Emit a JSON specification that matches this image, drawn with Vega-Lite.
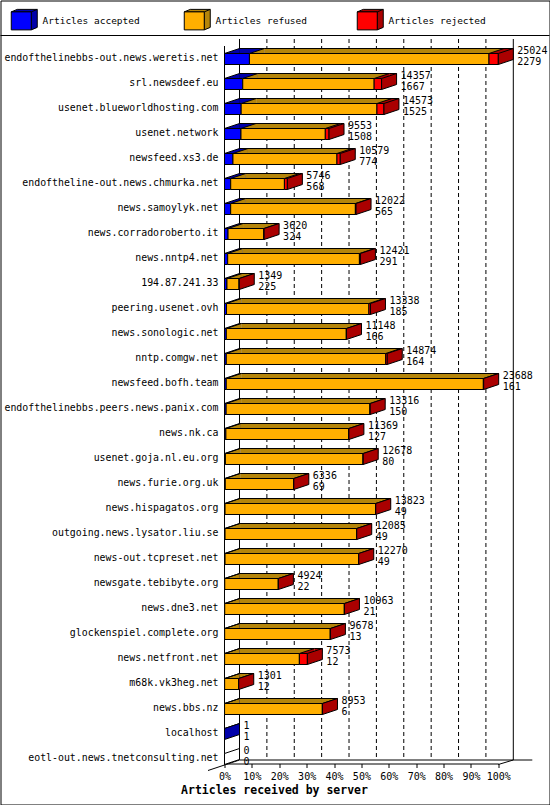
{
  "$schema": "https://vega.github.io/schema/vega-lite/v6.json",
  "width": 549,
  "height": 804,
  "autosize": {"type": "none"},
  "padding": {"left": 0.5, "top": 0.5, "right": 0.5, "bottom": 0.5},
  "background": "white",
  "config": {
    "view": {"stroke": "black", "strokeWidth": 1, "fill": "white"},
    "axis": {"grid": false},
    "font": "DejaVu Sans Mono"
  },
  "datasets": {
    "servers": [
      {"server": "endofthelinebbs-out.news.weretis.net", "offered": 25024, "accepted": 2279, "refused": 21895, "rejected": 850, "last": "rejected"},
      {"server": "srl.newsdeef.eu", "offered": 14357, "accepted": 1667, "refused": 12010, "rejected": 680, "last": "rejected"},
      {"server": "usenet.blueworldhosting.com", "offered": 14573, "accepted": 1525, "refused": 12408, "rejected": 640, "last": "rejected"},
      {"server": "usenet.network", "offered": 9553, "accepted": 1508, "refused": 7705, "rejected": 340, "last": "rejected"},
      {"server": "newsfeed.xs3.de", "offered": 10579, "accepted": 774, "refused": 9505, "rejected": 300, "last": "rejected"},
      {"server": "endoftheline-out.news.chmurka.net", "offered": 5746, "accepted": 568, "refused": 4908, "rejected": 270, "last": "rejected"},
      {"server": "news.samoylyk.net", "offered": 12022, "accepted": 565, "refused": 11397, "rejected": 60, "last": "rejected"},
      {"server": "news.corradoroberto.it", "offered": 3620, "accepted": 324, "refused": 3276, "rejected": 20, "last": "rejected"},
      {"server": "news.nntp4.net", "offered": 12421, "accepted": 291, "refused": 12040, "rejected": 90, "last": "rejected"},
      {"server": "194.87.241.33", "offered": 1349, "accepted": 225, "refused": 1114, "rejected": 10, "last": "rejected"},
      {"server": "peering.usenet.ovh", "offered": 13338, "accepted": 185, "refused": 13013, "rejected": 140, "last": "rejected"},
      {"server": "news.sonologic.net", "offered": 11148, "accepted": 166, "refused": 10967, "rejected": 15, "last": "rejected"},
      {"server": "nntp.comgw.net", "offered": 14874, "accepted": 164, "refused": 14570, "rejected": 140, "last": "rejected"},
      {"server": "newsfeed.bofh.team", "offered": 23688, "accepted": 161, "refused": 23497, "rejected": 30, "last": "rejected"},
      {"server": "endofthelinebbs.peers.news.panix.com", "offered": 13316, "accepted": 150, "refused": 13146, "rejected": 20, "last": "rejected"},
      {"server": "news.nk.ca", "offered": 11369, "accepted": 127, "refused": 11232, "rejected": 10, "last": "rejected"},
      {"server": "usenet.goja.nl.eu.org", "offered": 12678, "accepted": 80, "refused": 12588, "rejected": 10, "last": "rejected"},
      {"server": "news.furie.org.uk", "offered": 6336, "accepted": 69, "refused": 6262, "rejected": 5, "last": "rejected"},
      {"server": "news.hispagatos.org", "offered": 13823, "accepted": 49, "refused": 13764, "rejected": 10, "last": "rejected"},
      {"server": "outgoing.news.lysator.liu.se", "offered": 12085, "accepted": 49, "refused": 12026, "rejected": 10, "last": "rejected"},
      {"server": "news-out.tcpreset.net", "offered": 12270, "accepted": 49, "refused": 12211, "rejected": 10, "last": "rejected"},
      {"server": "newsgate.tebibyte.org", "offered": 4924, "accepted": 22, "refused": 4897, "rejected": 5, "last": "rejected"},
      {"server": "news.dne3.net", "offered": 10963, "accepted": 21, "refused": 10932, "rejected": 10, "last": "rejected"},
      {"server": "glockenspiel.complete.org", "offered": 9678, "accepted": 13, "refused": 9655, "rejected": 10, "last": "rejected"},
      {"server": "news.netfront.net", "offered": 7573, "accepted": 12, "refused": 6831, "rejected": 730, "last": "rejected"},
      {"server": "m68k.vk3heg.net", "offered": 1301, "accepted": 12, "refused": 1284, "rejected": 5, "last": "rejected"},
      {"server": "news.bbs.nz", "offered": 8953, "accepted": 6, "refused": 8937, "rejected": 10, "last": "rejected"},
      {"server": "localhost", "offered": 1, "accepted": 1, "refused": 0, "rejected": 0, "last": "accepted"},
      {"server": "eotl-out.news.tnetconsulting.net", "offered": 0, "accepted": 0, "refused": 0, "rejected": 0, "last": "none"}
    ],
    "frame": [
      {"lo": 0, "hi": 25024, "top": "endofthelinebbs-out.news.weretis.net", "bottom": "eotl-out.news.tnetconsulting.net"}
    ],
    "ticks": [
      {"v": 0, "top": "endofthelinebbs-out.news.weretis.net", "bottom": "eotl-out.news.tnetconsulting.net"},
      {"v": 2502.4, "top": "endofthelinebbs-out.news.weretis.net", "bottom": "eotl-out.news.tnetconsulting.net"},
      {"v": 5004.8, "top": "endofthelinebbs-out.news.weretis.net", "bottom": "eotl-out.news.tnetconsulting.net"},
      {"v": 7507.2, "top": "endofthelinebbs-out.news.weretis.net", "bottom": "eotl-out.news.tnetconsulting.net"},
      {"v": 10009.6, "top": "endofthelinebbs-out.news.weretis.net", "bottom": "eotl-out.news.tnetconsulting.net"},
      {"v": 12512, "top": "endofthelinebbs-out.news.weretis.net", "bottom": "eotl-out.news.tnetconsulting.net"},
      {"v": 15014.4, "top": "endofthelinebbs-out.news.weretis.net", "bottom": "eotl-out.news.tnetconsulting.net"},
      {"v": 17516.8, "top": "endofthelinebbs-out.news.weretis.net", "bottom": "eotl-out.news.tnetconsulting.net"},
      {"v": 20019.2, "top": "endofthelinebbs-out.news.weretis.net", "bottom": "eotl-out.news.tnetconsulting.net"},
      {"v": 22521.6, "top": "endofthelinebbs-out.news.weretis.net", "bottom": "eotl-out.news.tnetconsulting.net"},
      {"v": 25024, "top": "endofthelinebbs-out.news.weretis.net", "bottom": "eotl-out.news.tnetconsulting.net"}
    ]
  },
  "layer": [
    {
      "data": {"name": "frame"},
      "mark": {"type": "rule", "color": "black", "strokeWidth": 1, "yOffset": -22.5},
      "encoding": {
        "y": {"field": "top", "type": "nominal", "sort": null,
              "scale": {"type": "band", "domain": ["endofthelinebbs-out.news.weretis.net","srl.newsdeef.eu","usenet.blueworldhosting.com","usenet.network","newsfeed.xs3.de","endoftheline-out.news.chmurka.net","news.samoylyk.net","news.corradoroberto.it","news.nntp4.net","194.87.241.33","peering.usenet.ovh","news.sonologic.net","nntp.comgw.net","newsfeed.bofh.team","endofthelinebbs.peers.news.panix.com","news.nk.ca","usenet.goja.nl.eu.org","news.furie.org.uk","news.hispagatos.org","outgoing.news.lysator.liu.se","news-out.tcpreset.net","newsgate.tebibyte.org","news.dne3.net","glockenspiel.complete.org","news.netfront.net","m68k.vk3heg.net","news.bbs.nz","localhost","eotl-out.news.tnetconsulting.net"], "range": [45, 770], "paddingInner": 0, "paddingOuter": 0},
              "axis": {
                "orient": "left", "offset": -223.5, "domain": false, "ticks": false, "tickSize": 0,
                "labelPadding": 6, "labelFont": "DejaVu Sans Mono", "labelFontSize": 9.9, "labelColor": "black",
                "labelLimit": 0, "title": null
              }}
      }
    },
    {
      "data": {"name": "ticks"},
      "transform": [{"filter": "datum.v > 0 && datum.v < 25024"}],
      "mark": {"type": "rule", "color": "black", "strokeWidth": 1, "strokeDash": [4, 3], "xOffset": 15, "yOffset": -19, "y2Offset": 2},
      "encoding": {
        "x": {"field": "v", "type": "quantitative",
              "scale": {"type": "linear", "domain": [0, 25024], "range": [224, 497.8], "nice": false, "zero": false},
              "axis": {
                "orient": "bottom", "offset": -41, "grid": false,
                "values": [0, 2502.4, 5004.8, 7507.2, 10009.6, 12512, 15014.4, 17516.8, 20019.2, 22521.6, 25024],
                "labelExpr": "round(datum.value / 25024 * 100) + '%'",
                "tickSize": 4, "tickColor": "black", "domainColor": "black",
                "labelColor": "black", "labelFont": "DejaVu Sans Mono", "labelFontSize": 10, "labelPadding": 4,
                "labelFlush": false, "labelOverlap": false,
                "title": "Articles received by server", "titleFont": "DejaVu Sans Mono", "titleFontSize": 11.5,
                "titleFontWeight": "bold", "titleColor": "black", "titleX": 273.5, "titleY": 27,
                "titleAlign": "center", "titleBaseline": "middle"
              }},
        "y": {"field": "top", "type": "nominal"},
        "y2": {"field": "bottom"}
      }
    },
    {
      "data": {"name": "ticks"},
      "transform": [{"filter": "datum.v == 0 || datum.v == 25024"}],
      "mark": {"type": "rule", "color": "black", "strokeWidth": 1, "xOffset": 15, "yOffset": -19, "y2Offset": 2},
      "encoding": {
        "x": {"field": "v", "type": "quantitative"},
        "y": {"field": "top", "type": "nominal"},
        "y2": {"field": "bottom"}
      }
    },
    {
      "data": {"name": "frame"},
      "mark": {"type": "rule", "color": "black", "strokeWidth": 1, "xOffset": 15, "x2Offset": 34, "yOffset": 2},
      "encoding": {
        "x": {"field": "lo", "type": "quantitative"},
        "x2": {"field": "hi"},
        "y": {"field": "bottom", "type": "nominal"}
      }
    },
    {
      "data": {"name": "frame"},
      "mark": {"type": "rule", "color": "black", "strokeWidth": 1, "xOffset": -16.5, "x2Offset": 15, "yOffset": 12.5, "y2Offset": 2},
      "encoding": {
        "x": {"field": "lo", "type": "quantitative"},
        "x2": {"field": "lo"},
        "y": {"field": "bottom", "type": "nominal"},
        "y2": {"field": "bottom"}
      }
    },
    {
      "data": {"name": "frame"},
      "mark": {"type": "rule", "color": "black", "strokeWidth": 1, "x2Offset": 15, "yOffset": 6.5, "y2Offset": 2},
      "encoding": {
        "x": {"field": "hi", "type": "quantitative"},
        "x2": {"field": "hi"},
        "y": {"field": "bottom", "type": "nominal"},
        "y2": {"field": "bottom"}
      }
    },
    {
      "data": {"name": "frame"},
      "mark": {"type": "rule", "color": "black", "strokeWidth": 1, "yOffset": -12, "y2Offset": 7},
      "encoding": {
        "x": {"field": "lo", "type": "quantitative"},
        "y": {"field": "top", "type": "nominal"},
        "y2": {"field": "bottom"}
      }
    },
    {
      "data": {"name": "servers"},
      "transform": [
        {"fold": ["accepted", "refused", "rejected"], "as": ["face", "n"]},
        {"filter": "datum.n > 0"},
        {"stack": "n", "groupby": ["server"], "sort": [{"field": "face", "order": "ascending"}], "as": ["n0", "n1"]}
      ],
      "mark": {"type": "bar", "height": 5, "yOffset": -7, "xOffset": 15, "x2Offset": 15, "strokeWidth": 0},
      "encoding": {
        "x": {"field": "n0", "type": "quantitative"},
        "x2": {"field": "n1"},
        "y": {"field": "server", "type": "nominal"},
        "fill": {
          "field": "face", "type": "nominal",
          "scale": {"domain": ["accepted", "refused", "rejected", "none"], "range": ["#0000aa", "#b5850a", "#aa0000", "#ffffff"]},
          "legend": {
            "values": ["accepted", "refused", "rejected"],
            "orient": "none", "legendX": 16, "legendY": 15.5, "direction": "horizontal", "columns": 3,
            "gridAlign": "all", "columnPadding": 41, "padding": 0, "title": null,
            "symbolType": "M-10,-9L-4,-11.5H16V6.5L10,9V-9ZM10,-9L16,-11.5", "symbolSize": 4,
            "symbolStrokeColor": "black", "symbolStrokeWidth": 1,
            "labelFont": "DejaVu Sans Mono", "labelFontSize": 9.5, "labelOffset": 16.5, "labelOpacity": 0,
            "labelExpr": "'Articles ' + datum.label"
          }
        }
      }
    },
    {
      "data": {"name": "servers"},
      "transform": [
        {"fold": ["accepted", "refused", "rejected"], "as": ["face", "n"]},
        {"filter": "datum.n > 0"},
        {"stack": "n", "groupby": ["server"], "sort": [{"field": "face", "order": "ascending"}], "as": ["n0", "n1"]}
      ],
      "mark": {"type": "point", "shape": "M0,-4.5L15,-9.5L15,-4.5Z", "size": 4, "filled": true, "opacity": 1, "strokeWidth": 0},
      "encoding": {
        "x": {"field": "n0", "type": "quantitative"},
        "y": {"field": "server", "type": "nominal"},
        "fill": {"field": "face", "type": "nominal"}
      }
    },
    {
      "data": {"name": "servers"},
      "transform": [
        {"fold": ["accepted", "refused", "rejected"], "as": ["face", "n"]},
        {"filter": "datum.n > 0"},
        {"stack": "n", "groupby": ["server"], "sort": [{"field": "face", "order": "ascending"}], "as": ["n0", "n1"]}
      ],
      "mark": {"type": "rule", "color": "black", "strokeWidth": 1, "xOffset": 15, "x2Offset": 15, "yOffset": -9.5},
      "encoding": {
        "x": {"field": "n0", "type": "quantitative"},
        "x2": {"field": "n1"},
        "y": {"field": "server", "type": "nominal"}
      }
    },
    {
      "data": {"name": "servers"},
      "transform": [
        {"fold": ["accepted", "refused", "rejected"], "as": ["face", "n"]},
        {"filter": "datum.n > 0"},
        {"stack": "n", "groupby": ["server"], "sort": [{"field": "face", "order": "ascending"}], "as": ["n0", "n1"]}
      ],
      "mark": {"type": "point", "shape": "M0,-4.5L15,-9.5", "size": 4, "filled": false, "color": "black", "stroke": "black", "strokeWidth": 1, "opacity": 1},
      "encoding": {
        "x": {"field": "n0", "type": "quantitative"},
        "y": {"field": "server", "type": "nominal"}
      }
    },
    {
      "data": {"name": "servers"},
      "transform": [
        {"fold": ["accepted", "refused", "rejected"], "as": ["status", "n"]},
        {"filter": "datum.n > 0"},
        {"stack": "n", "groupby": ["server"], "sort": [{"field": "status", "order": "ascending"}], "as": ["n0", "n1"]}
      ],
      "mark": {"type": "bar", "height": 11, "yOffset": 1, "stroke": "black", "strokeWidth": 1},
      "encoding": {
        "x": {"field": "n0", "type": "quantitative"},
        "x2": {"field": "n1"},
        "y": {"field": "server", "type": "nominal"},
        "color": {
          "field": "status", "type": "nominal",
          "scale": {"domain": ["accepted", "refused", "rejected"], "range": ["#0000ff", "#ffaf00", "#ff0000"]},
          "legend": {
            "orient": "none", "legendX": 16, "legendY": 15.5, "direction": "horizontal", "columns": 3,
            "gridAlign": "all", "columnPadding": 41, "padding": 0, "title": null,
            "symbolType": "M-10,-9H10V9H-10Z", "symbolSize": 4,
            "symbolStrokeColor": "black", "symbolStrokeWidth": 1,
            "labelFont": "DejaVu Sans Mono", "labelFontSize": 9.5, "labelOffset": 16.5, "labelColor": "black",
            "labelExpr": "'Articles ' + datum.label"
          }
        }
      }
    },
    {
      "data": {"name": "servers"},
      "mark": {"type": "point", "shape": "M0,-4.5L15,-9.5L15,1.5L0,6.5Z", "size": 4, "filled": true, "opacity": 1, "stroke": "black", "strokeWidth": 1},
      "encoding": {
        "x": {"field": "offered", "type": "quantitative"},
        "y": {"field": "server", "type": "nominal"},
        "fill": {"field": "last", "type": "nominal"}
      }
    },
    {
      "data": {"name": "servers"},
      "mark": {"type": "text", "align": "left", "baseline": "alphabetic", "dx": 19, "dy": -4, "font": "DejaVu Sans Mono", "fontSize": 10, "color": "black"},
      "encoding": {
        "x": {"field": "offered", "type": "quantitative"},
        "y": {"field": "server", "type": "nominal"},
        "text": {"field": "offered", "type": "quantitative", "format": "d"}
      }
    },
    {
      "data": {"name": "servers"},
      "mark": {"type": "text", "align": "left", "baseline": "alphabetic", "dx": 19, "dy": 6.5, "font": "DejaVu Sans Mono", "fontSize": 10, "color": "black"},
      "encoding": {
        "x": {"field": "offered", "type": "quantitative"},
        "y": {"field": "server", "type": "nominal"},
        "text": {"field": "accepted", "type": "quantitative", "format": "d"}
      }
    }
  ]
}
